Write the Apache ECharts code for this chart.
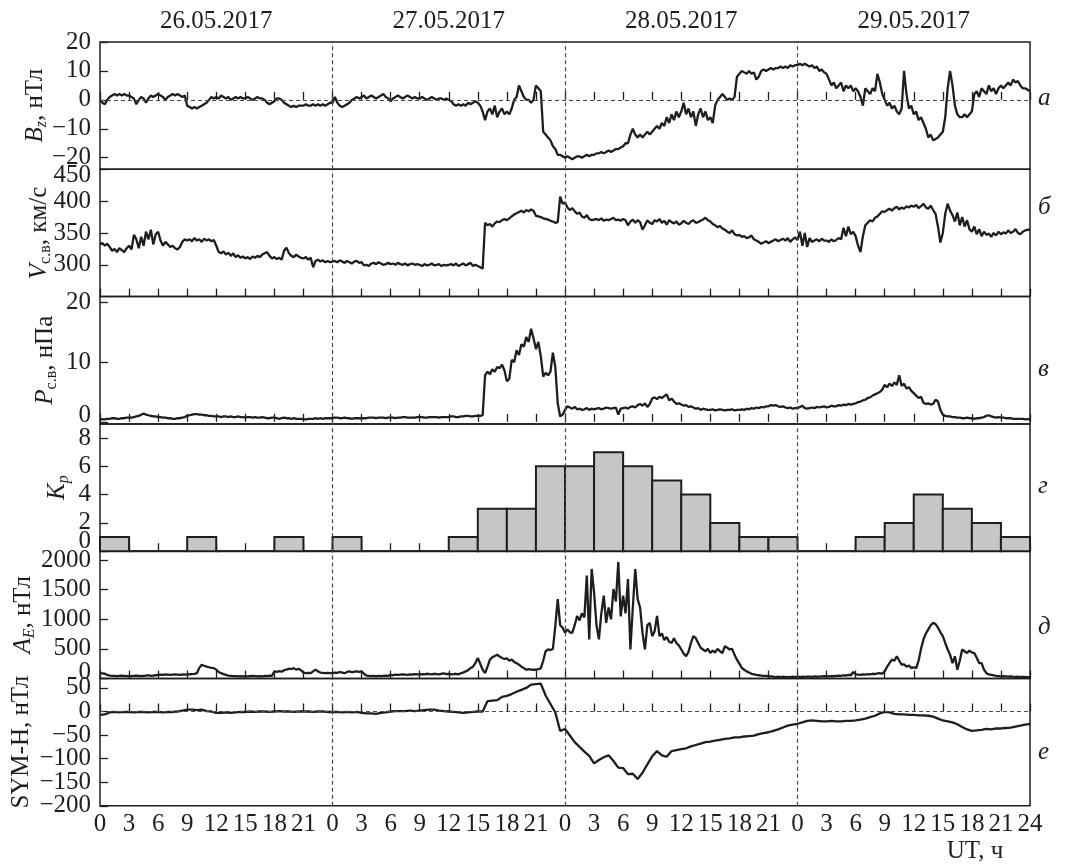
<!DOCTYPE html>
<html>
<head>
<meta charset="utf-8">
<script src="https://cdn.jsdelivr.net/npm/echarts@6/dist/echarts.min.js"></script>
<style>
  html, body { margin: 0; padding: 0; background: #ffffff; }
  #chart { width: 1072px; height: 867px; }
</style>
</head>
<body>
<div id="chart"></div>
<script>
// ---------- data ----------
const dayLabels = ['26.05.2017', '27.05.2017', '28.05.2017', '29.05.2017'];
const hoursTotal = 96;          // four days, UT hours
const hourTick = 3;

// IMF Bz, nT (0.25 h step)
const bzStep = 0.25;
const bz = [
  0, -1, -1.5, 0, 1, 1.5, 2, 1.5, 2, 1.5, 2, 1.5,
  1.5, 1, 0.5, -1.5, 0, 1, 0.5, -1, 0.5, 1.5, 1, 1.5,
  2, 1.5, 1, 0, 1, 1.5, 2, 1.5, 2, 1.5, 1, 1.5,
  -2, -2.5, -3, -2.5, -3, -2.5, -2, -1.5, -1, 0, 1, 0.5,
  1, 0.5, 1.5, 1, 0.5, 1, 0, 0.5, 1, 0.5, 1, 0.5,
  0.5, 1, 0.5, 0, 0.5, 1, 0.5, 0.5, 0, -1, -1.5, -1,
  -0.5, 0.5, 0.5, 0, -1, -1.5, -2, -2.5, -2, -2.5, -2, -2,
  -2, -1.5, -2, -2, -1.5, -2, -1.5, -2, -1.5, -2, -1.5, -1,
  -1, 1, -1, -2, -2.5, -2, -1.5, -1, 0, 0.5, 1, 0.5,
  1, 1.5, 0.5, 1, 1.5, 1, 0.5, 1, 1.5, 2, 1, 0.5,
  -0.5, 0.5, 1, 1.5, 1, 0.5, 1, 1.5, 1, 0.5, 1, 0.5,
  0.5, 1, 0.5, 0, 0.5, 1, 0.5, 0, 0.5, 0.5, 0, 0.5,
  0, -0.5, -1.5, -2, -1.5, -2, -1.5, -2, -1, -1.5, -1, -0.5,
  -1, -2, -4, -7, -4, -3, -5, -2, -6, -4, -3, -5,
  -4, -5, -3, 0, 1, 5, 3, 1, 0, 0, -1, 0,
  5, 4, 3, -11, -12, -13, -14, -16, -17, -19, -19, -19.5,
  -20, -19.5, -20, -20.5, -20, -19.5, -19.5, -20, -19.5, -19, -19.5, -19,
  -19, -18.5, -18.5, -18, -18.5, -18, -17.5, -18, -17.5, -17, -17, -16.5,
  -16, -15, -15, -12, -10, -12, -13, -12, -13, -12, -11, -12,
  -11, -10, -9, -10, -8, -9, -6, -8, -5, -7, -4, -6,
  -4, -1, -5, -3, -6, -4, -9, -5, -3, -6, -4, -7,
  -6, -8, -2, 0, 1, 2, 1, 0, 0.5, 0, 1, 8,
  9, 10, 9.5, 9, 10, 9, 9.5, 7, 8, 10, 10.5, 10,
  10.5, 11, 10.5, 11, 11, 11.5, 11, 11.5, 11, 12, 11.5, 12,
  12, 12.5, 12, 12.5, 12, 11.5, 12, 11, 11.5, 10, 10.5, 9.5,
  9, 7, 5, 6, 4, 5, 6, 3, 5, 4, 5, 3,
  4, 3, 1, -2, 4, 3, 2, 4, 3, 9, 6, 2,
  0, -2, -1, -3, -2, -4, -5, -3, 10, 2, -3, -2,
  -5, -4, -7, -6, -8, -10, -13, -12, -14, -13.5, -13, -12,
  -11, -6, 4, 10, 5, -2, -5, -6, -6, -5, -6, -5,
  -4, 2, 3, 1, 4, 3, 2, 5, 3, 4, 2, 4,
  5, 4, 5, 6, 5, 7, 6, 6.5, 5, 4, 4, 3.5,
  3
];

// Solar wind speed, km/s (0.25 h step)
const vswStep = 0.25;
const vsw = [
  332, 334, 330, 333, 328, 322, 325, 320, 326, 323, 320, 326,
  330, 324, 347, 340, 326, 344, 330, 352, 340, 355, 332, 348,
  352, 338, 330, 336, 332, 328, 330, 326, 324, 328, 336, 340,
  338, 340, 337, 342, 338, 340, 336, 341, 338, 340, 337, 339,
  330, 320, 318, 321, 316, 319, 314, 318, 312, 315, 311, 313,
  310, 312, 309, 313, 311, 314, 312, 316, 318, 320, 314, 310,
  312, 309, 311, 308, 322, 327, 318, 314, 312, 316, 313, 311,
  310, 312, 308, 311, 296, 306, 308, 305, 307, 304, 306, 304,
  305, 306, 304, 307, 305, 303, 306, 304, 302, 305, 306, 303,
  304, 299, 300, 298, 302, 303, 301, 304, 302, 300, 301, 303,
  301, 302, 300, 303, 301, 300, 302, 299, 301, 302, 300, 301,
  300, 298, 301, 299, 300, 302, 299, 300, 301, 298, 300, 299,
  300, 301, 299, 302, 298, 300, 302, 299, 301, 303, 298, 300,
  298, 296, 294, 366, 362, 364, 360, 365, 368, 367, 370, 372,
  370, 373, 376, 379, 381, 383, 385, 382, 386, 384, 387, 385,
  377, 376, 375, 373, 372, 371, 369, 368, 366, 367, 407, 396,
  398, 390, 386, 389, 384, 380, 382, 376, 374, 378, 372, 370,
  371, 372, 370, 373, 369, 371, 370, 372, 374, 370, 371, 369,
  372, 370, 362, 368, 371, 366, 370, 367, 355, 362, 370, 366,
  364, 370, 368, 372, 366, 369, 363, 370, 367, 365, 368, 363,
  365, 369, 366, 364, 368, 370, 366, 367, 369, 371, 374, 370,
  368, 364, 362, 359, 361, 357, 355, 352, 350, 354, 348, 346,
  347, 344, 345, 342, 343, 346, 340, 338, 336, 333, 335, 337,
  334, 336, 338, 340, 337, 339, 341, 338, 342, 336, 340, 343,
  339, 352, 330, 350, 328, 342, 336, 338, 340, 337, 341, 338,
  338, 336, 340, 337, 339, 342, 340, 358, 345, 360, 348, 352,
  345, 330, 320, 345, 362, 366, 370, 368, 374, 376, 380, 384,
  383, 386, 388, 385, 389, 391, 387, 390, 388, 392, 390, 393,
  391, 394, 389, 392, 396, 390, 388, 393, 386, 380, 360, 335,
  350, 380, 396, 385, 378, 368, 382, 362, 375, 360, 370, 356,
  352, 360, 348, 356, 345, 352, 347, 349, 344, 350, 346, 352,
  348, 351, 349, 354, 350, 352, 356, 350, 348, 352, 354, 355,
  355
];

// Solar wind dynamic pressure, nPa (0.25 h step)
const pswStep = 0.25;
const psw = [
  0.5, 0.4, 0.4, 0.5, 0.5, 0.6, 0.6, 0.5, 0.5, 0.6, 0.6, 0.7,
  0.7, 0.7, 0.8, 0.9, 1.0, 1.2, 1.4, 1.2, 1.1, 1.0, 0.9, 0.9,
  0.8, 0.8, 0.7, 0.7, 0.6, 0.6, 0.5, 0.5, 0.6, 0.6, 0.7, 0.8,
  1.0, 1.1, 1.2, 1.3, 1.3, 1.2, 1.2, 1.1, 1.1, 1.0, 1.0, 0.9,
  0.9, 0.9, 0.8, 0.9, 0.9, 0.8, 0.9, 0.8, 0.8, 0.9, 0.8, 0.8,
  0.7, 0.8, 0.8, 0.7, 0.8, 0.7, 0.7, 0.8, 0.7, 0.6, 0.6, 0.7,
  0.7, 0.6, 0.5, 0.6, 0.7, 0.6, 0.6, 0.5, 0.6, 0.5, 0.5, 0.5,
  0.4, 0.4, 0.5, 0.5, 0.5, 0.6, 0.5, 0.6, 0.5, 0.6, 0.6, 0.6,
  0.6, 0.7, 0.7, 0.6, 0.6, 0.7, 0.6, 0.6, 0.5, 0.6, 0.6, 0.6,
  0.6, 0.6, 0.6, 0.7, 0.7, 0.7, 0.6, 0.7, 0.7, 0.7, 0.6, 0.7,
  0.7, 0.7, 0.6, 0.7, 0.7, 0.8, 0.8, 0.7, 0.7, 0.7, 0.7, 0.8,
  0.8, 0.8, 0.7, 0.7, 0.8, 0.8, 0.8, 0.8, 0.7, 0.8, 0.8, 0.8,
  0.8, 0.9, 0.9, 0.8, 0.8, 0.9, 0.9, 1.0, 1.0, 0.9, 0.9, 1.0,
  1.0, 1.0, 1.1, 7.8, 8.4, 8.0, 8.8, 8.4, 9.2, 9.0, 9.6, 8.6,
  6.8, 7.2, 10.4, 10.0, 12.0, 11.2, 13.0, 12.6, 14.2, 13.4, 15.6, 14.0,
  12.2, 13.4, 11.0, 7.6, 8.2, 7.8, 8.4, 11.6, 9.2, 3.1, 0.9, 1.2,
  2.0, 2.6, 2.4, 2.2, 2.5, 2.1, 2.2, 2.0, 2.1, 2.3, 2.0, 2.2,
  2.1, 2.2, 2.3, 2.1, 2.2, 2.4, 2.3, 2.2, 2.3, 2.4, 1.2, 2.2,
  2.3, 2.4, 2.2, 2.5, 2.6, 2.4, 2.8, 3.0, 2.7, 3.1, 2.5, 3.0,
  3.9, 4.1, 3.8, 4.2, 4.0, 4.3, 4.6, 3.6, 3.9, 3.4, 3.0, 3.1,
  2.9, 2.7, 2.8, 2.5, 2.6, 2.4, 2.2, 2.3, 2.0, 2.2, 2.1, 2.0,
  2.0, 2.1, 1.9, 2.0, 2.1, 2.0, 1.9, 2.0, 2.0, 2.1, 1.9, 2.0,
  2.0, 2.1, 2.0, 2.2, 2.1, 2.3, 2.2, 2.4, 2.3, 2.5, 2.4, 2.6,
  2.6, 2.8, 2.7, 2.8, 2.6, 2.5, 2.6, 2.4, 2.3, 2.4, 2.2, 2.3,
  2.3, 2.5, 2.7, 2.3, 2.2, 2.3, 2.4, 2.3, 2.5, 2.4, 2.5, 2.6,
  2.4, 2.5, 2.7, 2.6, 2.6, 2.8, 2.7, 2.9, 2.8, 3.0, 2.9, 3.0,
  3.1, 3.3, 3.4, 3.6, 3.7, 4.0, 4.1, 4.4, 4.6, 4.8, 5.0, 5.4,
  6.2, 5.8, 6.4, 6.0, 6.6, 6.2, 7.8, 6.0, 6.4, 5.6, 5.8, 5.2,
  4.8, 4.4, 4.0, 4.2, 3.2, 3.0, 3.1, 2.9, 3.0, 3.7, 3.4, 2.0,
  1.2, 1.0, 0.9, 0.9, 0.8, 0.8, 0.7, 0.7, 0.6, 0.6, 0.7, 0.6,
  0.6, 0.5, 0.6, 0.6, 0.7, 0.8, 1.0, 1.1, 0.9, 0.8, 0.7, 0.8,
  0.7, 0.7, 0.6, 0.6, 0.6, 0.5, 0.5, 0.5, 0.5, 0.5, 0.4, 0.45,
  0.45
];

// Kp index, 3-hour intervals
const kpStep = 3;
const kp = [
  1, 0, 0, 1, 0, 0, 1, 0,
  1, 0, 0, 0, 1, 3, 3, 6,
  6, 7, 6, 5, 4, 2, 1, 1,
  0, 0, 1, 2, 4, 3, 2, 1
];

// AE index, nT (0.25 h step)
const aeStep = 0.25;
const ae = [
  90, 85, 80, 60, 50, 45, 45, 40, 45, 50, 45, 40,
  45, 40, 45, 50, 45, 40, 45, 50, 55, 45, 50, 55,
  60, 65, 60, 70, 65, 60, 65, 70, 65, 60, 70, 65,
  70, 72, 75, 78, 90, 180, 233, 215, 200, 190, 180, 175,
  150, 110, 90, 75, 60, 50, 45, 40, 40, 35, 40, 35,
  40, 35, 40, 45, 40, 35, 40, 35, 45, 40, 50, 45,
  120, 110, 125, 115, 140, 150, 165, 160, 175, 150, 165, 140,
  100, 90, 95, 90, 120, 150, 120, 100, 95, 90, 95, 90,
  90, 100, 95, 110, 100, 90, 110, 120, 105, 115, 120, 110,
  120, 80, 50, 45, 40, 45, 40, 45, 40, 45, 50, 45,
  60, 55, 65, 60, 65, 70, 65, 60, 70, 65, 75, 70,
  70, 75, 70, 80, 75, 70, 80, 75, 70, 80, 85, 75,
  80, 70, 75, 80, 70, 90, 100, 120, 140, 176, 200, 260,
  346, 250, 148, 90, 200, 318, 360, 380, 403, 370, 346, 330,
  340, 300, 320, 280, 260, 233, 200, 176, 148, 160, 150, 148,
  148, 160, 170, 300, 460, 490, 480, 500, 886, 1340, 900, 860,
  772, 830, 780, 770, 900, 1056, 980, 1100, 1030, 1740, 660, 1850,
  1450, 900, 660, 1100, 1400, 940, 1200, 1000, 1510, 1300, 1965, 1050,
  1400, 1100, 1680, 490, 1200, 1850, 1340, 1200, 770, 490, 900, 940,
  715, 800, 1056, 715, 760, 650, 700, 620, 600, 680, 600, 560,
  490, 420, 375, 450, 600, 715, 680, 600, 520, 490, 460, 500,
  430, 470, 440, 500, 460, 430, 545, 520, 490, 500, 400, 318,
  250, 180, 148, 120, 100, 80, 70, 60, 55, 50, 45, 45,
  40, 35, 30, 25, 30, 25, 30, 25, 23, 25, 30, 25,
  28, 25, 30, 28, 32, 30, 28, 35, 30, 32, 35, 38,
  40, 35, 42, 38, 45, 50, 45, 55, 50, 60, 55, 110,
  70, 65, 60, 70, 65, 75, 70, 80, 75, 85, 90, 80,
  120, 200, 260, 320, 300, 375, 300, 233, 240, 200, 220, 176,
  190, 176, 300, 500, 660, 760, 830, 900, 940, 920, 860, 780,
  715, 600, 490, 400, 260, 375, 148, 300, 490, 460, 430, 470,
  440, 430, 350, 260, 260, 150, 90, 70, 62, 55, 45, 40,
  35, 40, 35, 30, 35, 30, 28, 30, 25, 28, 25, 23,
  23
];

// SYM-H index, nT (0.5 h step)
const symhStep = 0.5;
const symh = [
  -7, -6, -2, -1, -2, -1,
  -1, -2, -1, -1, -2, -1,
  -1, -2, -1, -1, 0, 2,
  4, 4, 3, 4, 1, 0,
  -3, -3, -2, -3, -2, -1,
  -1, 0, -1, 0, 0, -1,
  0, 1, 0, 0, -1, 0,
  0, 0, -1, 0, 0, -1,
  -1, -1, -2, -1, -2, -1,
  -3, -4, -4, -5, -3, -2,
  0, 1, 1, 1, 2, 1,
  2, 3, 4, 4, 2, 1,
  0, -1, -2, -3, -2, -1,
  0, 0, 22, 23, 24, 31,
  33, 37, 42, 46, 50, 57,
  58, 59, 34, 16, -2, -41,
  -37, -51, -65, -75, -85, -94,
  -110, -103, -97, -93, -105, -119,
  -120, -133, -132, -143, -130, -112,
  -95, -84, -93, -96, -84, -82,
  -80, -78, -74, -71, -68, -65,
  -64, -62, -60, -58, -57, -55,
  -55, -53, -52, -51, -48, -46,
  -44, -41, -38, -34, -30, -28,
  -26, -23, -20, -19, -20, -21,
  -21, -20, -21, -21, -20, -20,
  -19, -17, -15, -12, -9, -4,
  -1, -2, -5, -6, -6, -7,
  -7, -8, -8, -9, -11, -15,
  -19, -21, -23, -27, -33, -38,
  -41, -40, -39, -37, -38, -36,
  -36, -35, -34, -32, -30, -28,
  -26
];

// ---------- styling ----------
const FONT = '"Liberation Serif", "Times New Roman", Times, serif';
const INK = '#1e1e1e';
const GRID_LEFT = 100;
const GRID_RIGHT = 42;
const GRID_TOP = 42;
const PANEL_H = 127.3;
const TEXT_SIZE = 25;

const nameRich = {
  i:  { fontFamily: FONT, fontSize: TEXT_SIZE, fontStyle: 'italic', color: INK, lineHeight: 30 },
  n:  { fontFamily: FONT, fontSize: TEXT_SIZE, color: INK, lineHeight: 30 },
  s:  { fontFamily: FONT, fontSize: 16, color: INK, lineHeight: 16, verticalAlign: 'bottom' },
  is: { fontFamily: FONT, fontSize: 16, fontStyle: 'italic', color: INK, lineHeight: 16, verticalAlign: 'bottom' }
};

const minus = v => String(v).replace('-', '\u2212');

// panel descriptions: series, axis extents, labelled values, axis title
const panels = [
  { kind: 'line', values: bz, step: bzStep, min: -24, max: 20, ticks: [-20, -10, 0, 10, 20],
    name: '{i|B}{is|z}{n|, нТл}', gap: 50, zero: true, tag: 'а', tagDy: 56, shift: {} },
  { kind: 'line', values: vsw, step: vswStep, min: 250, max: 450, ticks: [300, 350, 400, 450],
    name: '{i|V}{s|с.в}{n|, км/с}', gap: 46, tag: 'б', tagDy: 38, shift: { 450: -6 } },
  { kind: 'line', values: psw, step: pswStep, min: -0.35, max: 21, ticks: [0, 10, 20],
    name: '{i|P}{s|с.в}{n|, нПа}', gap: 40, tag: 'в', tagDy: 73, shift: { 0: 6 } },
  { kind: 'bars', values: kp, step: kpStep, min: 0, max: 9, ticks: [0, 2, 4, 6, 8],
    name: '{i|K}{is|p}', gap: 28, tag: 'г', tagDy: 63, shift: { 0: 10 } },
  { kind: 'line', values: ae, step: aeStep, min: 0, max: 2150, ticks: [0, 500, 1000, 1500, 2000],
    name: '{i|A}{is|E}{n|, нТл}', gap: 62, tag: 'д', tagDy: 76, shift: { 0: 6 } },
  { kind: 'line', values: symh, step: symhStep, min: -200, max: 70, ticks: [-200, -150, -100, -50, 0, 50],
    name: '{n|SYM-H, нТл}', gap: 64, zero: true, tag: 'е', tagDy: 73.5, shift: {} }
];

const panelTop = i => GRID_TOP + i * PANEL_H;

const grids = panels.map((p, i) => ({
  left: GRID_LEFT, right: GRID_RIGHT, top: panelTop(i), height: PANEL_H,
  show: true, borderColor: INK, borderWidth: 1.5, backgroundColor: 'transparent'
}));

const xAxes = panels.map((p, i) => ({
  type: 'value', gridIndex: i, position: 'bottom',
  min: 0, max: hoursTotal, interval: hourTick,
  axisLine: { show: false },
  axisTick: { show: true, inside: true, length: 8, lineStyle: { color: INK, width: 1.3 } },
  splitLine: { show: false },
  axisLabel: {
    show: i === panels.length - 1,
    showMinLabel: true, showMaxLabel: true, hideOverlap: false,
    margin: 6,
    fontFamily: FONT, fontSize: TEXT_SIZE, color: INK,
    formatter: v => (v === hoursTotal ? String(24) : String(v % 24))
  }
}));

// day captions above the first panel
xAxes.push({
  type: 'value', gridIndex: 0, position: 'top',
  min: 0, max: hoursTotal,
  axisLine: { show: false }, axisTick: { show: false }, splitLine: { show: false },
  axisLabel: {
    customValues: dayLabels.map((_, d) => d * 24 + 12),
    formatter: v => dayLabels[Math.round((v - 12) / 24)],
    margin: 8, fontFamily: FONT, fontSize: TEXT_SIZE, color: INK
  }
});

// Each panel gets two coincident left axes; the tick labels alternate
// between them so that tightly spaced neighbours are never dropped.
function yAxisFor(p, i, labelValues, primary) {
  const rich = {};
  const shiftKeys = Object.keys(p.shift).map(Number);
  shiftKeys.forEach((k, j) => {
    const d = p.shift[k];
    rich['m' + j] = {
      fontFamily: FONT, fontSize: TEXT_SIZE, color: INK,
      padding: d > 0 ? [0, 0, 2 * d, 0] : [-2 * d, 0, 0, 0]
    };
  });
  const axis = {
    type: 'value', gridIndex: i, position: 'left', offset: 0,
    min: p.min, max: p.max,
    axisLine: { show: false },
    splitLine: { show: false },
    axisTick: primary
      ? { show: true, inside: true, length: 8, customValues: p.ticks, lineStyle: { color: INK, width: 1.3 } }
      : { show: false },
    axisLabel: {
      customValues: labelValues, margin: 9,
      showMinLabel: true, showMaxLabel: true, hideOverlap: false,
      fontFamily: FONT, fontSize: TEXT_SIZE, color: INK,
      formatter: v => {
        const j = shiftKeys.indexOf(v);
        return j >= 0 ? '{m' + j + '|' + minus(v) + '}' : minus(v);
      },
      rich
    }
  };
  if (primary) {
    Object.assign(axis, {
      name: p.name, nameLocation: 'middle', nameRotate: 90, nameGap: p.gap,
      nameMoveOverlap: false,
      nameTextStyle: { fontFamily: FONT, fontSize: TEXT_SIZE, color: INK, rich: nameRich }
    });
  }
  return axis;
}

const yAxes = panels.map((p, i) => yAxisFor(p, i, p.ticks.filter((_, k) => k % 2 === 0), true))
  .concat(panels.map((p, i) => yAxisFor(p, i, p.ticks.filter((_, k) => k % 2 === 1), false)));

const guideStyle = { color: '#4a4a4a', width: 1.2, type: [4, 3] };
const guides = zero => ({
  silent: true, symbol: ['none', 'none'], animation: false,
  label: { show: false }, lineStyle: guideStyle, emphasis: { disabled: true },
  data: [{ xAxis: 24 }, { xAxis: 48 }, { xAxis: 72 }].concat(zero ? [{ yAxis: 0 }] : [])
});

const series = panels.map((p, i) => {
  if (p.kind === 'bars') {
    return {
      type: 'custom', xAxisIndex: i, yAxisIndex: i,
      data: p.values.map((v, k) => [k * p.step, (k + 1) * p.step, v]),
      encode: { x: [0, 1], y: 2 },
      renderItem: (params, api) => {
        const a = api.coord([api.value(0), 0]);
        const b = api.coord([api.value(1), api.value(2)]);
        return {
          type: 'rect',
          shape: { x: a[0], y: b[1], width: b[0] - a[0], height: a[1] - b[1] },
          style: { fill: '#c6c6c6', stroke: INK, lineWidth: 2 }
        };
      },
      markLine: guides(false)
    };
  }
  return {
    type: 'line', xAxisIndex: i, yAxisIndex: i,
    data: p.values.map((v, k) => [k * p.step, v]),
    showSymbol: false, symbol: 'none',
    lineStyle: { color: INK, width: 2.3 },
    markLine: guides(p.zero),
    z: 3
  };
});

const tagFont = 'italic ' + TEXT_SIZE + 'px ' + FONT;
const graphics = panels.map((p, i) => ({
  type: 'text', x: 1072 - GRID_RIGHT + 8, y: panelTop(i) + p.tagDy,
  style: { text: p.tag, font: tagFont, fill: INK, align: 'left', verticalAlign: 'middle' }
}));
graphics.push({
  type: 'text', x: 975, y: 851,
  style: { text: 'UT, ч', font: TEXT_SIZE + 'px ' + FONT, fill: INK, align: 'center', verticalAlign: 'middle' }
});

const chart = echarts.init(document.getElementById('chart'), null, { renderer: 'canvas' });
chart.setOption({
  animation: false,
  backgroundColor: '#ffffff',
  grid: grids,
  xAxis: xAxes,
  yAxis: yAxes,
  series,
  graphic: graphics
});
</script>
</body>
</html>
